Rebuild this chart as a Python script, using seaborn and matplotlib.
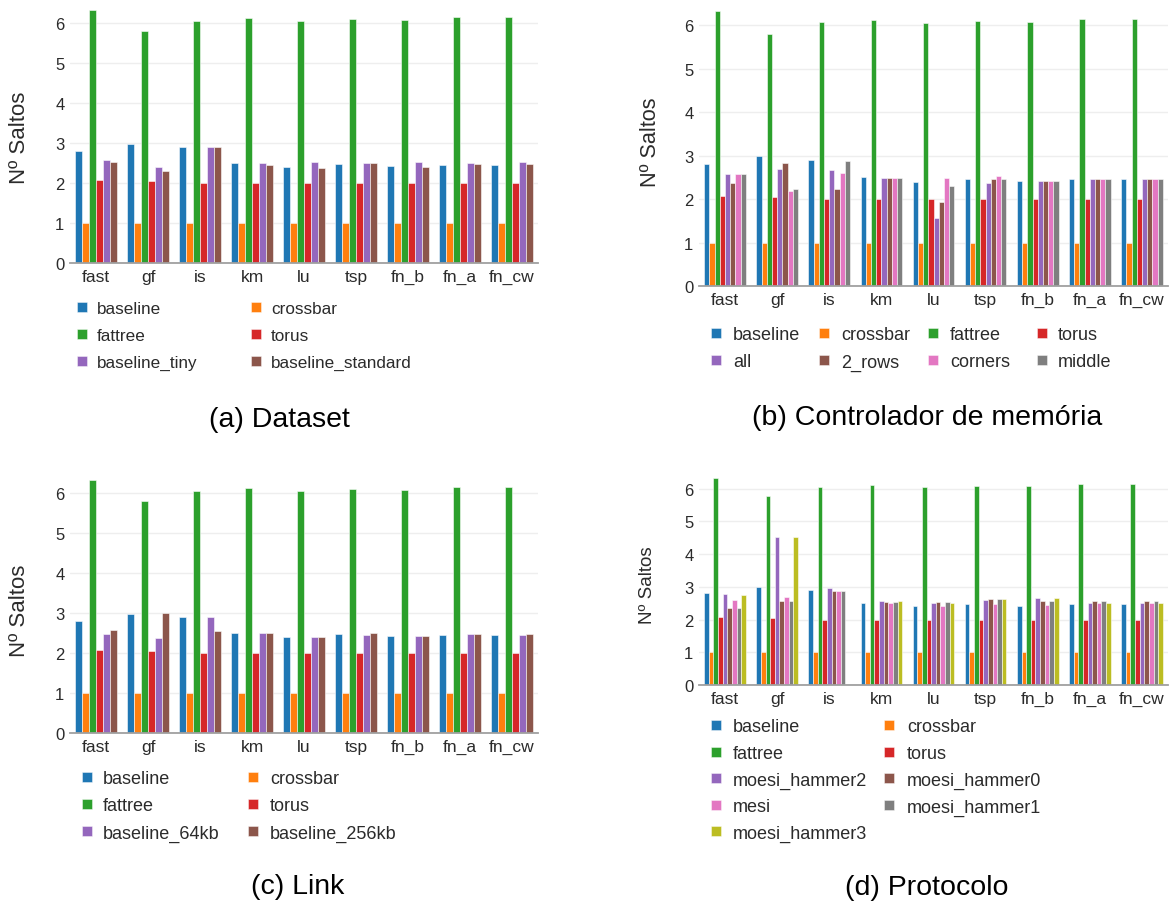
import numpy as np
import pandas as pd
import matplotlib
matplotlib.use("Agg")
import matplotlib.pyplot as plt
import seaborn as sns
from matplotlib.patches import Rectangle

# ---------------- data ----------------
benchmarks = ["fast", "gf", "is", "km", "lu", "tsp", "fn_b", "fn_a", "fn_cw"]

baseline = [2.80, 2.98, 2.90, 2.50, 2.40, 2.47, 2.42, 2.46, 2.46]
crossbar = [1.0, 1.0, 1.0, 1.0, 1.0, 1.0, 1.0, 1.0, 1.0]
fattree = [6.33, 5.79, 6.06, 6.12, 6.04, 6.09, 6.08, 6.14, 6.15]
torus = [2.07, 2.04, 2.0, 2.0, 2.0, 2.0, 1.99, 2.0, 2.0]

# (a) Dataset
baseline_tiny = [2.58, 2.39, 2.89, 2.49, 2.52, 2.49, 2.52, 2.49, 2.52]
baseline_standard = [2.53, 2.31, 2.91, 2.44, 2.38, 2.49, 2.41, 2.48, 2.48]

# (b) Controlador de memória
mc_all = [2.57, 2.69, 2.67, 2.49, 1.56, 2.36, 2.42, 2.46, 2.46]
mc_2_rows = [2.36, 2.82, 2.22, 2.49, 1.93, 2.45, 2.42, 2.46, 2.46]
mc_corners = [2.58, 2.19, 2.61, 2.49, 2.49, 2.54, 2.42, 2.46, 2.46]
mc_middle = [2.58, 2.23, 2.87, 2.49, 2.31, 2.46, 2.42, 2.46, 2.46]

# (c) Link
baseline_64kb = [2.47, 2.38, 2.89, 2.50, 2.41, 2.44, 2.43, 2.47, 2.46]
baseline_256kb = [2.57, 3.00, 2.56, 2.51, 2.41, 2.51, 2.43, 2.48, 2.48]

# (d) Protocolo
moesi_hammer2 = [2.77, 4.51, 2.96, 2.57, 2.50, 2.60, 2.67, 2.50, 2.50]
moesi_hammer0 = [2.35, 2.58, 2.86, 2.55, 2.55, 2.63, 2.58, 2.56, 2.56]
mesi = [2.59, 2.70, 2.86, 2.50, 2.40, 2.48, 2.43, 2.50, 2.50]
moesi_hammer1 = [2.35, 2.58, 2.86, 2.55, 2.55, 2.63, 2.58, 2.56, 2.56]
moesi_hammer3 = [2.76, 4.52, np.nan, 2.57, 2.50, 2.62, 2.67, 2.50, 2.50]

yticks = [0, 1, 2, 3, 4, 5, 6]
ylabel = "Nº Saltos"
captions = ["(a) Dataset", "(b) Controlador de memória", "(c) Link", "(d) Protocolo"]

colors = ["#1f77b4", "#ff7f0e", "#2ca02c", "#d62728", "#9467bd",
          "#8c564b", "#e377c2", "#7f7f7f", "#bcbd22"]

TXT = "#2b2b2b"

# ---------------- style ----------------
sns.set_theme(style="white")
plt.rcParams["font.family"] = ["Liberation Sans", "DejaVu Sans"]

W, H = 1173, 903
fig = plt.figure(figsize=(W / 100, H / 100), dpi=100)
fig.patch.set_facecolor("white")


def px_axes(x0, y0, x1, y1):
    return fig.add_axes([x0 / W, 1 - y1 / H, (x1 - x0) / W, (y1 - y0) / H])


def fx(x):
    return x / W


def fy(y):
    return 1 - y / H


def panel(rect, names, series, ylab_pos, ylab_fs, legend_cols_x, legend_text_x,
          legend_rows_y, ncol, legend_fs, caption, cap_pos):
    ax = px_axes(*rect)
    rows = []
    for n, vals in zip(names, series):
        for b, v in zip(benchmarks, vals):
            rows.append({"bench": b, "series": n, "value": v})
    df = pd.DataFrame(rows)
    sns.barplot(data=df, x="bench", y="value", hue="series", order=benchmarks,
                hue_order=names, palette=colors[:len(names)], width=0.8,
                errorbar=None, saturation=1, legend=False,
                edgecolor=(1, 1, 1, 0.55), linewidth=0.7, ax=ax)
    ax.set_xlim(-0.5, 8.5)
    ax.set_ylim(0, 6.6)
    ax.set_yticks(yticks)
    ax.set_xlabel("")
    ax.set_ylabel("")
    ax.grid(axis="y", color="#eeeeee", linewidth=1)
    ax.grid(axis="x", visible=False)
    ax.set_axisbelow(True)
    for s in ["top", "right", "left"]:
        ax.spines[s].set_visible(False)
    ax.spines["bottom"].set_color("#a0a0a0")
    ax.spines["bottom"].set_linewidth(1.3)
    ax.tick_params(axis="y", length=0, pad=4, labelsize=12, labelcolor=TXT)
    ax.tick_params(axis="x", length=0, pad=4, labelsize=12.5, labelcolor=TXT)
    ax.set_facecolor("white")

    # y label
    fig.text(fx(ylab_pos[0]), fy(ylab_pos[1]), ylabel, rotation=90,
             ha="center", va="center", fontsize=ylab_fs, color=TXT)

    # legend
    for i, (n, c) in enumerate(zip(names, colors)):
        r, col = divmod(i, ncol)
        mx = legend_cols_x[col]
        my = legend_rows_y[r]
        s = 10
        fig.add_artist(Rectangle((fx(mx - s / 2), fy(my + s / 2)), s / W, s / H,
                                 transform=fig.transFigure, facecolor=c,
                                 edgecolor=(1, 1, 1, 0.5), linewidth=0.6))
        fig.text(fx(legend_text_x[col]), fy(my), n, ha="left", va="center_baseline",
                 fontsize=legend_fs, color=TXT)

    fig.text(fx(cap_pos[0]), fy(cap_pos[1]), caption, ha="center", va="center",
             fontsize=20.5, color="black")
    return ax


base_names = ["baseline", "crossbar", "fattree", "torus"]
base_series = [baseline, crossbar, fattree, torus]

panel((70, 0, 538, 264),
      base_names + ["baseline_tiny", "baseline_standard"],
      base_series + [baseline_tiny, baseline_standard],
      (20, 138), 16, [81.5, 255.5], [97, 271], [308, 335, 362], 2, 12.3,
      captions[0], (279, 420))

panel((699, 0, 1168, 287),
      base_names + ["all", "2_rows", "corners", "middle"],
      base_series + [mc_all, mc_2_rows, mc_corners, mc_middle],
      (650, 142), 15.6, [716, 824, 933, 1042], [733, 841, 950, 1058], [334, 361], 4, 13,
      captions[1], (927, 418))

panel((70, 470, 538, 734),
      base_names + ["baseline_64kb", "baseline_256kb"],
      base_series + [baseline_64kb, baseline_256kb],
      (20, 611), 16, [87, 253], [103, 270], [778, 805, 832], 2, 13,
      captions[2], (298, 887))

panel((699, 470, 1168, 686),
      base_names + ["moesi_hammer2", "moesi_hammer0", "mesi", "moesi_hammer1", "moesi_hammer3"],
      base_series + [moesi_hammer2, moesi_hammer0, mesi, moesi_hammer1, moesi_hammer3],
      (648, 585), 13.5, [716, 889], [733, 907], [726, 753, 779, 806, 832], 2, 13,
      captions[3], (927, 888))

fig.savefig("out.png", dpi=100, facecolor="white")
